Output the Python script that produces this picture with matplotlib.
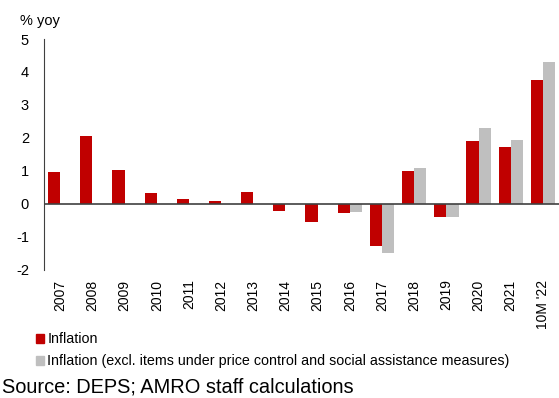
import matplotlib.pyplot as plt
import numpy as np
from matplotlib.patches import Patch

# data
years = ['2007', '2008', '2009', '2010', '2011', '2012', '2013', '2014',
         '2015', '2016', '2017', '2018', '2019', '2020', '2021', "10M '22"]
inflation = [0.96, 2.06, 1.02, 0.34, 0.14, 0.09, 0.36, -0.21,
             -0.56, -0.28, -1.27, 1.01, -0.40, 1.92, 1.73, 3.77]
inflation_excl = [np.nan] * 9 + [-0.26, -1.49, 1.10, -0.39, 2.29, 1.94, 4.30]

plt.rcParams['font.family'] = ['Liberation Sans', 'DejaVu Sans']
plt.rcParams['axes.unicode_minus'] = False

fig = plt.figure(figsize=(5.59, 3.98), dpi=100)
ax = fig.add_axes([0.079, 0.322, 0.921, 0.58])

x = np.arange(len(years))
w = 0.38
ax.bar(x - w / 2, inflation, w, color='#C00000')
ax.bar(x + w / 2, inflation_excl, w, color='#BFBFBF')

ax.set_xlim(-0.5, len(years) - 0.5)
ax.set_ylim(-2, 5)
ax.set_yticks(range(-2, 6))
ax.axhline(0, color='#404040', lw=1.2)

ax.set_xticks(x)
ax.set_xticklabels(years, rotation=90, fontsize=10)
ax.tick_params(axis='both', length=0)
ax.tick_params(axis='y', labelsize=10.5, pad=11)
ax.tick_params(axis='x', pad=7)

for s in ['top', 'right', 'bottom']:
    ax.spines[s].set_visible(False)
ax.spines['left'].set_color('#404040')

fig.text(0.036, 0.948, '% yoy', fontsize=10.5, va='center')

handles = [Patch(color='#C00000'), Patch(color='#BFBFBF')]
labels = ['Inflation',
          'Inflation (excl. items under price control and social assistance measures)']
fig.legend(handles, labels, loc='upper left', bbox_to_anchor=(0.064, 0.165),
           frameon=False, fontsize=10.3, handlelength=0.6, handleheight=0.6,
           handletextpad=0.2, labelspacing=0.55, borderpad=0, borderaxespad=0)

fig.text(0.004, 0.028, 'Source: DEPS; AMRO staff calculations', fontsize=14.4, va='center')

fig.savefig('out.png')
